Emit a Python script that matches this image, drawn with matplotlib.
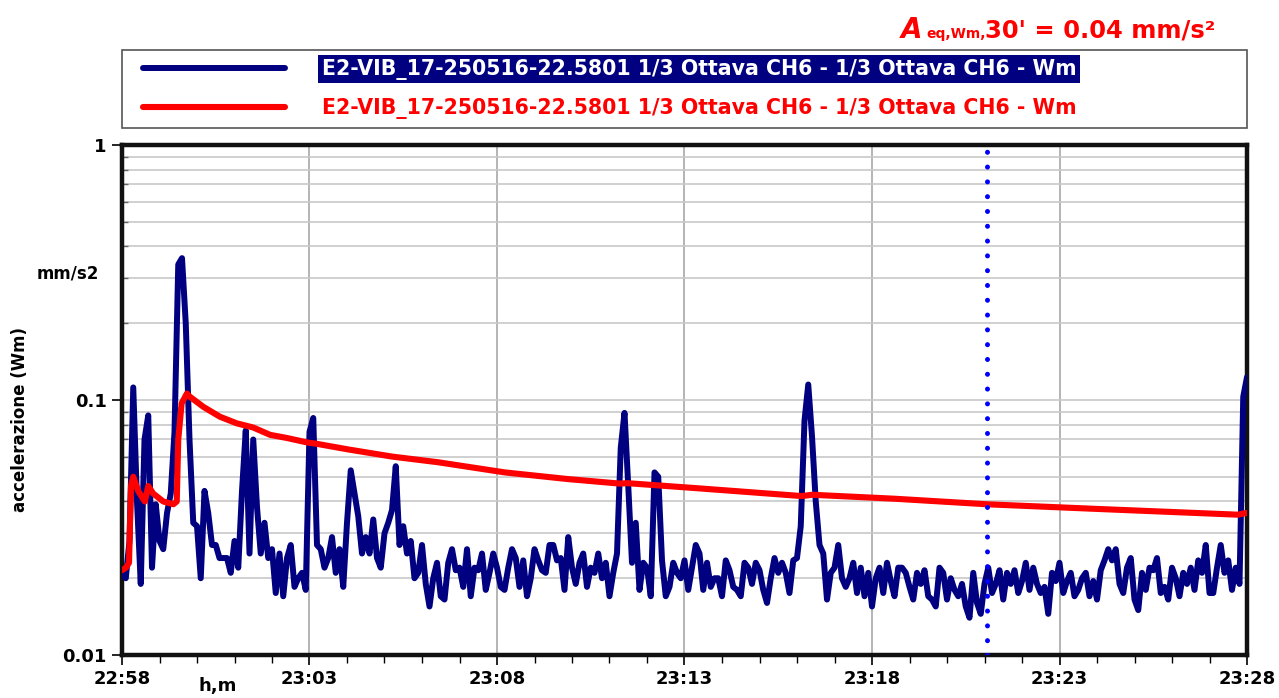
import numpy as np
import pandas as pd
import matplotlib
matplotlib.use("Agg")
import matplotlib.pyplot as plt
import matplotlib.dates as mdates
from matplotlib.patches import Rectangle
from matplotlib.ticker import LogLocator, NullFormatter, FixedLocator, FixedFormatter

# ---------------- data ----------------
start = pd.Timestamp("2016-05-25 22:58:00")
end = pd.Timestamp("2016-05-25 23:28:00")

# Wm-weighted acceleration, one value every 6 s (mm/s2)
blue_values = [
    0.021, 0.020, 0.028, 0.112, 0.040, 0.019, 0.070, 0.087, 0.022, 0.039,
    0.028, 0.026, 0.036, 0.043, 0.075, 0.340, 0.360, 0.200, 0.070, 0.033,
    0.032, 0.020, 0.044, 0.036, 0.027, 0.027, 0.024, 0.024, 0.024, 0.021,
    0.028, 0.022, 0.044, 0.076, 0.025, 0.070, 0.038, 0.025, 0.033, 0.024,
    0.026, 0.0175, 0.025, 0.017, 0.024, 0.027, 0.0185, 0.020, 0.021, 0.018,
    0.075, 0.085, 0.027, 0.026, 0.022, 0.024, 0.029, 0.021, 0.026, 0.0185,
    0.033, 0.053, 0.043, 0.035, 0.025, 0.029, 0.025, 0.034, 0.024, 0.022,
    0.030, 0.033, 0.037, 0.055, 0.027, 0.032, 0.025, 0.028, 0.020, 0.021,
    0.027, 0.019, 0.0155, 0.020, 0.023, 0.017, 0.0165, 0.023, 0.026, 0.0215,
    0.022, 0.0185, 0.026, 0.017, 0.022, 0.0215, 0.025, 0.018, 0.021, 0.025,
    0.022, 0.0185, 0.018, 0.022, 0.026, 0.024, 0.0185, 0.0235, 0.017, 0.020,
    0.026, 0.0235, 0.0215, 0.021, 0.027, 0.027, 0.0235, 0.024, 0.018, 0.029,
    0.022, 0.019, 0.023, 0.025, 0.0185, 0.022, 0.021, 0.025, 0.020, 0.023,
    0.017, 0.021, 0.025, 0.065, 0.089, 0.046, 0.023, 0.033, 0.018, 0.023,
    0.022, 0.017, 0.052, 0.050, 0.0235, 0.017, 0.0185, 0.023, 0.021, 0.020,
    0.0235, 0.018, 0.022, 0.027, 0.025, 0.018, 0.023, 0.0185, 0.020, 0.020,
    0.017, 0.0235, 0.0215, 0.0185, 0.018, 0.017, 0.023, 0.022, 0.019, 0.023,
    0.0215, 0.018, 0.016, 0.020, 0.024, 0.021, 0.023, 0.021, 0.0175, 0.0235,
    0.024, 0.032, 0.083, 0.115, 0.072, 0.040, 0.027, 0.025, 0.0165, 0.021,
    0.022, 0.027, 0.020, 0.0185, 0.020, 0.023, 0.0175, 0.022, 0.017, 0.021,
    0.0155, 0.020, 0.022, 0.0175, 0.023, 0.0195, 0.017, 0.022, 0.022, 0.021,
    0.0185, 0.0165, 0.021, 0.019, 0.0215, 0.017, 0.0165, 0.0155, 0.022, 0.021,
    0.0165, 0.020, 0.018, 0.017, 0.019, 0.0155, 0.014, 0.021, 0.016, 0.0145,
    0.019, 0.022, 0.0175, 0.019, 0.0215, 0.0165, 0.021, 0.019, 0.0215, 0.0175,
    0.0195, 0.023, 0.018, 0.022, 0.019, 0.0175, 0.0185, 0.0145, 0.021, 0.0195,
    0.023, 0.0175, 0.0195, 0.021, 0.017, 0.018, 0.020, 0.021, 0.017, 0.0195,
    0.0165, 0.0215, 0.0235, 0.026, 0.0235, 0.026, 0.019, 0.0175, 0.022, 0.024,
    0.0165, 0.015, 0.021, 0.018, 0.022, 0.0215, 0.024, 0.0175, 0.0185, 0.0165,
    0.022, 0.020, 0.017, 0.021, 0.019, 0.022, 0.018, 0.0235, 0.021, 0.027,
    0.0175, 0.0175, 0.022, 0.027, 0.021, 0.0235, 0.018, 0.022, 0.019, 0.103,
    0.123,
]
blue_times = pd.date_range(start, periods=len(blue_values), freq="6s")

# running equivalent level (minutes after 22:58, mm/s2)
red_minutes = [0.0, 0.107, 0.187, 0.24, 0.30, 0.43, 0.61, 0.70, 0.83, 1.10,
               1.37, 1.46, 1.50, 1.59, 1.73, 1.81, 2.17, 2.61, 3.06, 3.50,
               3.95, 4.39, 4.97, 5.15, 6.03, 7.2, 8.43, 10.21, 11.87, 13.28,
               13.47, 15.41, 18.13, 18.4, 20.61, 23.07, 25.81, 29.76, 29.95, 30.0]
red_values = [0.0215, 0.022, 0.023, 0.046, 0.050, 0.044, 0.040, 0.046, 0.043, 0.040,
              0.039, 0.040, 0.070, 0.097, 0.106, 0.103, 0.094, 0.086, 0.081, 0.078,
              0.073, 0.071, 0.068, 0.0675, 0.064, 0.060, 0.057, 0.052, 0.049, 0.047,
              0.0472, 0.045, 0.042, 0.0425, 0.041, 0.039, 0.0375, 0.0355, 0.036, 0.036]
red_times = start + pd.to_timedelta(red_minutes, unit="m")

cursor_time = pd.Timestamp("2016-05-25 23:21:04")

series_label = "E2-VIB_17-250516-22.5801 1/3 Ottava CH6 - 1/3 Ottava CH6 - Wm"
y_ticks = [0.01, 0.1, 1]
y_ticklabels = ["0.01", "0.1", "1"]
result_text = "30' = 0.04 mm/s²"

# ---------------- figure ----------------
plt.rcParams["font.family"] = ["DejaVu Sans"]
plt.rcParams["font.weight"] = "bold"

W, H = 1279, 698
fig = plt.figure(figsize=(W / 100, H / 100), dpi=100)
ax = fig.add_axes([122 / W, 43 / H, 1125 / W, 510 / H])

ax.set_yscale("log")
ax.set_ylim(0.01, 1)
ax.set_xlim(start, end)

ax.grid(True, which="both", axis="y", color="#c8c8c8", linewidth=1.2)
ax.xaxis.set_major_locator(mdates.MinuteLocator(byminute=range(3, 60, 5)))
ax.xaxis.set_minor_locator(mdates.MinuteLocator())
ax.xaxis.set_major_formatter(mdates.DateFormatter("%H:%M"))
ax.grid(True, which="major", axis="x", color="#a8a8a8", linewidth=1.2)
ax.set_axisbelow(True)

ax.yaxis.set_major_locator(FixedLocator(y_ticks))
ax.yaxis.set_major_formatter(FixedFormatter(y_ticklabels))
ax.yaxis.set_minor_locator(LogLocator(base=10, subs=np.arange(2, 10)))
ax.yaxis.set_minor_formatter(NullFormatter())

ax.tick_params(axis="both", which="major", direction="out", length=7, width=1.2,
               labelsize=13, pad=4)
ax.tick_params(axis="x", which="minor", direction="out", length=6, width=1)
ax.tick_params(axis="y", which="minor", direction="in", length=4, width=1, color="#666666")
for lab in ax.get_xticklabels() + ax.get_yticklabels():
    lab.set_fontweight("bold")

for sp in ax.spines.values():
    sp.set_linewidth(3.2)
    sp.set_color("#111111")

l1, = ax.plot(blue_times, blue_values, color="#000080", linewidth=4.3,
              solid_joinstyle="round", solid_capstyle="round", label=series_label, zorder=3)
l2, = ax.plot(red_times, red_values, color="#ff0000", linewidth=4.4,
              solid_joinstyle="round", solid_capstyle="round", label=series_label, zorder=4)
ax.axvline(cursor_time, color="#0000ff", linewidth=3.6, linestyle=(0, (0.01, 2.95)),
           dash_capstyle="round", zorder=5)

# legend frame (spans the plot width above the axes)
ax.add_patch(Rectangle((0, (655 - 128) / 510), 1, 78 / 510, transform=ax.transAxes,
                       facecolor="white", edgecolor="#555555", linewidth=1.2,
                       clip_on=False, zorder=1))
leg = ax.legend(handles=[l1, l2], loc="center left",
                bbox_to_anchor=((143 - 122) / 1125, (655 - 89) / 510),
                borderaxespad=0, frameon=False, borderpad=0,
                handlelength=6.9, handletextpad=1.8, labelspacing=0.9,
                prop={"weight": "bold", "size": 14.8})
leg.set_zorder(6)
t1, t2 = leg.get_texts()
t1.set_color("white")
t1.set_bbox(dict(facecolor="#000080", edgecolor="none", pad=2.5))
t2.set_color("#ff0000")

fig.text(20 / W, 1 - 420 / H, "accelerazione (Wm)", rotation=90, ha="center",
         va="center", fontsize=12, fontweight="bold")
fig.text(68 / W, 1 - 274 / H, "mm/s2", ha="center", va="center", fontsize=12,
         fontweight="bold")
fig.text(218 / W, 1 - 686 / H, "h,m", ha="center", va="center", fontsize=13,
         fontweight="bold")

fig.text(901 / W, 1 - 38 / H, "A", ha="left", va="baseline", fontsize=20,
         fontweight="bold", fontstyle="italic", color="#ff0000")
fig.text(926 / W, 1 - 38 / H, "eq,Wm,", ha="left", va="baseline", fontsize=10,
         fontweight="bold", color="#ff0000")
fig.text(985 / W, 1 - 38 / H, result_text, ha="left", va="baseline", fontsize=17.5,
         fontweight="bold", color="#ff0000")

fig.savefig("out.png", dpi=100, facecolor="white")
